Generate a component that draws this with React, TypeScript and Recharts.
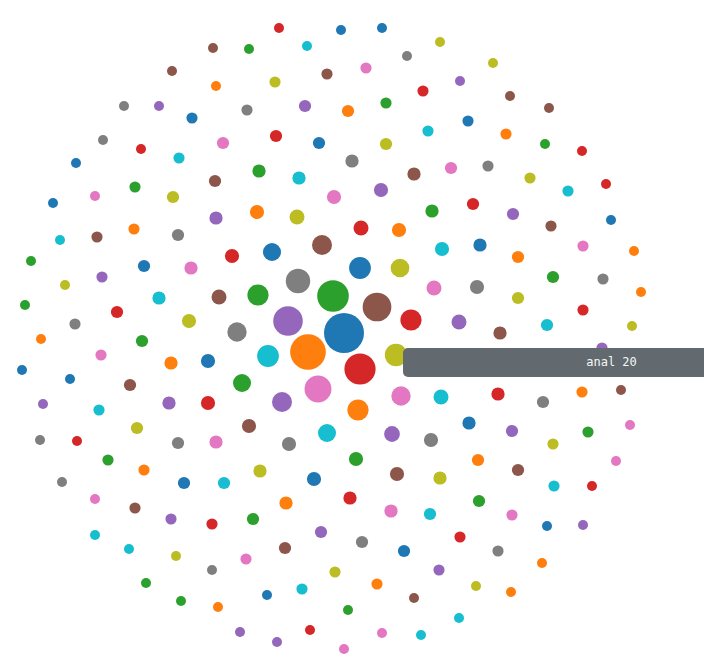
import { Scatter, ScatterChart, XAxis, YAxis, ZAxis } from "recharts";

// [x, y, count] per word, grouped by colour slot (d3 category10 order)
const blue = [
  [341, 30, 4], [382, 28, 4], [192, 118, 5], [468, 121, 5], [319, 143, 6],
  [76, 163, 4], [53, 203, 4], [611, 220, 4], [272, 252, 13], [480, 245, 7],
  [144, 266, 6], [360, 268, 19], [344, 333, 64], [208, 361, 8], [22, 370, 4],
  [70, 379, 4], [469, 423, 7], [547, 526, 4], [314, 479, 8], [184, 483, 6],
  [404, 551, 6], [267, 595, 4],
];
const orange = [
  [216, 86, 4], [348, 111, 6], [506, 134, 5], [134, 229, 5], [257, 212, 8],
  [399, 230, 8], [518, 257, 6], [634, 251, 4], [641, 292, 4], [41, 339, 4],
  [171, 363, 7], [308, 352, 51], [358, 410, 18], [582, 392, 5], [144, 470, 5],
  [478, 460, 6], [286, 503, 7], [377, 584, 5], [542, 563, 4], [511, 592, 4],
  [218, 607, 4],
];
const green = [
  [249, 49, 4], [386, 103, 5], [545, 144, 4], [135, 187, 5], [259, 171, 7],
  [432, 211, 7], [31, 261, 4], [553, 277, 6], [25, 305, 4], [258, 295, 18],
  [333, 296, 40], [142, 341, 6], [242, 383, 13], [588, 432, 5], [108, 460, 5],
  [356, 459, 8], [479, 501, 6], [253, 519, 6], [146, 583, 4], [181, 601, 4],
  [348, 610, 4],
];
const red = [
  [279, 28, 4], [423, 91, 5], [582, 151, 4], [141, 149, 4], [276, 136, 6],
  [606, 184, 4], [473, 204, 6], [361, 228, 9], [232, 256, 8], [117, 312, 6],
  [411, 320, 18], [583, 310, 5], [360, 369, 39], [208, 403, 8], [498, 394, 7],
  [77, 441, 4], [350, 498, 7], [592, 486, 4], [212, 524, 5], [460, 537, 5],
  [310, 630, 4],
];
const purple = [
  [159, 106, 4], [305, 106, 6], [460, 81, 4], [216, 218, 7], [381, 190, 8],
  [513, 214, 6], [102, 277, 5], [288, 321, 35], [459, 322, 9], [602, 348, 5],
  [43, 404, 4], [169, 403, 7], [282, 402, 16], [392, 434, 10], [512, 431, 6],
  [171, 519, 5], [583, 525, 4], [321, 532, 6], [439, 570, 5], [240, 632, 4],
  [277, 642, 4],
];
const brown = [
  [213, 48, 4], [172, 71, 4], [327, 74, 5], [510, 96, 4], [549, 108, 4],
  [215, 181, 6], [414, 174, 7], [97, 237, 5], [551, 226, 5], [322, 245, 16],
  [219, 297, 9], [377, 307, 33], [500, 333, 7], [130, 385, 6], [621, 390, 4],
  [249, 426, 8], [397, 474, 8], [518, 470, 6], [135, 508, 5], [285, 548, 6],
  [414, 598, 4],
];
const pink = [
  [366, 68, 5], [223, 143, 6], [95, 196, 4], [451, 168, 6], [334, 197, 8],
  [191, 268, 7], [583, 246, 5], [434, 288, 9], [101, 355, 5], [318, 389, 29],
  [401, 396, 15], [630, 425, 4], [216, 442, 7], [616, 461, 4], [95, 499, 4],
  [391, 511, 7], [512, 515, 5], [246, 559, 5], [382, 633, 4], [344, 649, 4],
];
const gray = [
  [407, 56, 4], [124, 106, 4], [247, 110, 5], [103, 140, 4], [352, 161, 7],
  [488, 166, 5], [178, 235, 6], [298, 281, 24], [477, 287, 8], [603, 279, 5],
  [75, 324, 5], [237, 332, 15], [543, 402, 6], [40, 440, 4], [178, 443, 6],
  [289, 444, 8], [431, 440, 8], [62, 482, 4], [362, 542, 6], [498, 551, 5],
  [212, 570, 4],
];
const olive = [
  [440, 42, 4], [275, 82, 5], [493, 63, 4], [173, 197, 6], [386, 144, 6],
  [530, 178, 5], [297, 217, 9], [65, 285, 4], [400, 268, 14], [518, 298, 6],
  [189, 321, 8], [632, 326, 4], [396, 355, 20], [137, 428, 6], [553, 444, 5],
  [260, 471, 7], [440, 478, 7], [176, 556, 4], [335, 572, 5], [476, 586, 4],
];
const cyan = [
  [307, 46, 4], [179, 158, 5], [428, 131, 5], [299, 178, 7], [568, 191, 5],
  [60, 240, 4], [442, 249, 8], [159, 298, 7], [547, 325, 6], [268, 356, 19],
  [441, 397, 9], [99, 410, 5], [327, 433, 13], [224, 483, 6], [430, 514, 6],
  [554, 486, 5], [95, 535, 4], [129, 549, 4], [302, 589, 5], [459, 618, 4],
  [421, 635, 4],
];

// hovered word shown in the tooltip
const hoverWord = "anal";
const hoverPoint = olive[12];

const groups = [
  { data: blue, color: "#1f77b4" },
  { data: orange, color: "#ff7f0e" },
  { data: green, color: "#2ca02c" },
  { data: red, color: "#d62728" },
  { data: purple, color: "#9467bd" },
  { data: brown, color: "#8c564b" },
  { data: pink, color: "#e377c2" },
  { data: gray, color: "#7f7f7f" },
  { data: olive, color: "#bcbd22" },
  { data: cyan, color: "#17becf" },
];

const toRows = (pts: number[][]) => pts.map(([x, y, z]) => ({ x, y, z }));

export default function App() {
  return (
    <div
      style={{
        position: "absolute",
        top: 0,
        left: 0,
        width: 704,
        height: 670,
        overflow: "hidden",
        background: "#fff",
      }}
    >
      <ScatterChart width={704} height={670} margin={{ top: 0, right: 0, bottom: 0, left: 0 }}>
        <XAxis type="number" dataKey="x" domain={[0, 704]} hide />
        <YAxis type="number" dataKey="y" domain={[0, 670]} reversed hide />
        <ZAxis type="number" dataKey="z" domain={[0, 64]} range={[0, Math.PI * 400]} />
        {groups.map((g, i) => (
          <Scatter
            key={i}
            data={toRows(g.data)}
            fill={g.color}
            isAnimationActive={false}
          />
        ))}
      </ScatterChart>
      <div
        style={{
          position: "absolute",
          left: 403,
          top: 348,
          width: 417,
          height: 29,
          borderRadius: 5,
          background: "#626a6f",
          color: "#f4f8f8",
          fontFamily: "'DejaVu Sans Mono', monospace",
          fontSize: 12,
          lineHeight: "29px",
          textAlign: "center",
        }}
      >
        {hoverWord} {hoverPoint[2]}
      </div>
    </div>
  );
}
